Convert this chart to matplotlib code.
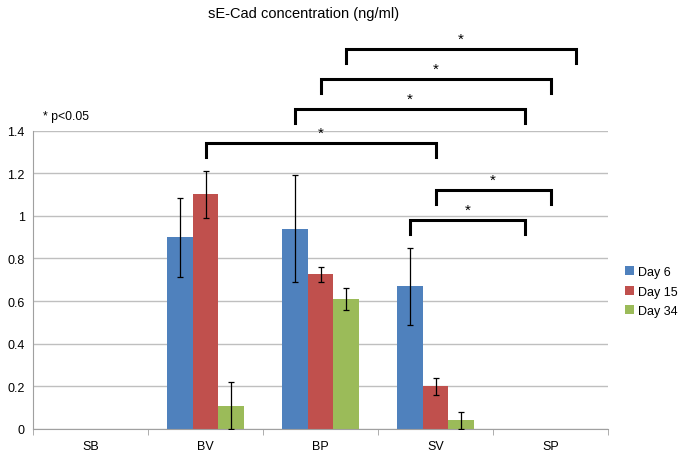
"""
sE-Cad concentration bar chart with significance brackets.
"""

import numpy as np
import matplotlib
matplotlib.use('Agg')
import matplotlib.pyplot as plt
from matplotlib.ticker import FuncFormatter

plt.rcParams['font.family'] = ['Liberation Sans', 'DejaVu Sans']

categories = ['SB', 'BV', 'BP', 'SV', 'SP']
series_names = ['Day 6', 'Day 15', 'Day 34']
colors = ['#4F81BD', '#C0504D', '#9BBB59']

nan = np.nan
day6 = [nan, 0.90, 0.94, 0.67, nan]
day15 = [nan, 1.10, 0.725, 0.20, nan]
day34 = [nan, 0.11, 0.61, 0.04, nan]
day6_err = [nan, 0.185, 0.25, 0.18, nan]
day15_err = [nan, 0.11, 0.035, 0.04, nan]
day34_err = [nan, 0.11, 0.053, 0.04, nan]

# brackets: (category, series) start, (category, series) end, bar height
brackets = [
    ((2, 2), (4, 2), 1.78),
    ((2, 1), (4, 1), 1.64),
    ((2, 0), (4, 0), 1.50),
    ((1, 1), (3, 1), 1.34),
    ((3, 1), (4, 1), 1.12),
    ((3, 0), (4, 0), 0.98),
]

values = [day6, day15, day34]
errors = [day6_err, day15_err, day34_err]

fig = plt.figure(figsize=(6.83, 4.56), dpi=100)
ax = fig.add_axes([33 / 683, 26 / 456, 575 / 683, 298.5 / 456])

width = 0.222
x = np.arange(len(categories))
offsets = [-width, 0, width]

for vals, errs, off, col, name in zip(values, errors, offsets, colors, series_names):
    ax.bar(x + off, vals, width, color=col, label=name, zorder=2)
    ax.errorbar(x + off, vals, yerr=errs, fmt='none', ecolor='black',
                elinewidth=0.9, capsize=2.5, capthick=0.9, zorder=3)

ax.set_xlim(-0.5, len(categories) - 0.5)
ax.set_ylim(0, 1.4)
ax.set_yticks(np.arange(0, 1.41, 0.2))
ax.yaxis.set_major_formatter(FuncFormatter(lambda v, p: f'{v:g}'))
ax.yaxis.grid(True, color='#BFBFBF', linewidth=1.0, zorder=0)
ax.set_axisbelow(True)

ax.set_xticks(x)
ax.set_xticklabels(categories)
ax.set_xticks(np.arange(-0.5, len(categories), 1.0), minor=True)
ax.tick_params(axis='x', which='major', length=0, pad=8, labelsize=9)
ax.tick_params(axis='x', which='minor', length=4, color='#A0A0A0', direction='out')
ax.tick_params(axis='y', length=0, pad=6, labelsize=9)

for side in ['top', 'right']:
    ax.spines[side].set_visible(False)
ax.spines['left'].set_color('#A0A0A0')
ax.spines['bottom'].set_color('#A0A0A0')

leg_depth = 0.065
for (c0, s0), (c1, s1), h in brackets:
    x0 = x[c0] + offsets[s0]
    x1 = x[c1] + offsets[s1]
    ax.plot([x0, x0, x1, x1], [h - leg_depth, h, h, h - leg_depth],
            color='black', linewidth=2.2, solid_joinstyle='miter',
            clip_on=False, zorder=4)
    ax.text((x0 + x1) / 2, h + 0.015, '*', ha='center', va='bottom',
            fontsize=11, clip_on=False)

fig.text(208 / 683, 1 - 14 / 456, 'sE-Cad concentration (ng/ml)',
         ha='left', va='center', fontsize=10.5)
fig.text(43 / 683, 1 - 117 / 456, '* p<0.05', ha='left', va='center', fontsize=8.8)

ax.legend(loc='center left', bbox_to_anchor=(1.01, 0.46), frameon=False,
          fontsize=9, handlelength=0.7, handleheight=0.7, handletextpad=0.3,
          labelspacing=0.6)

fig.savefig('out.png', dpi=100)
